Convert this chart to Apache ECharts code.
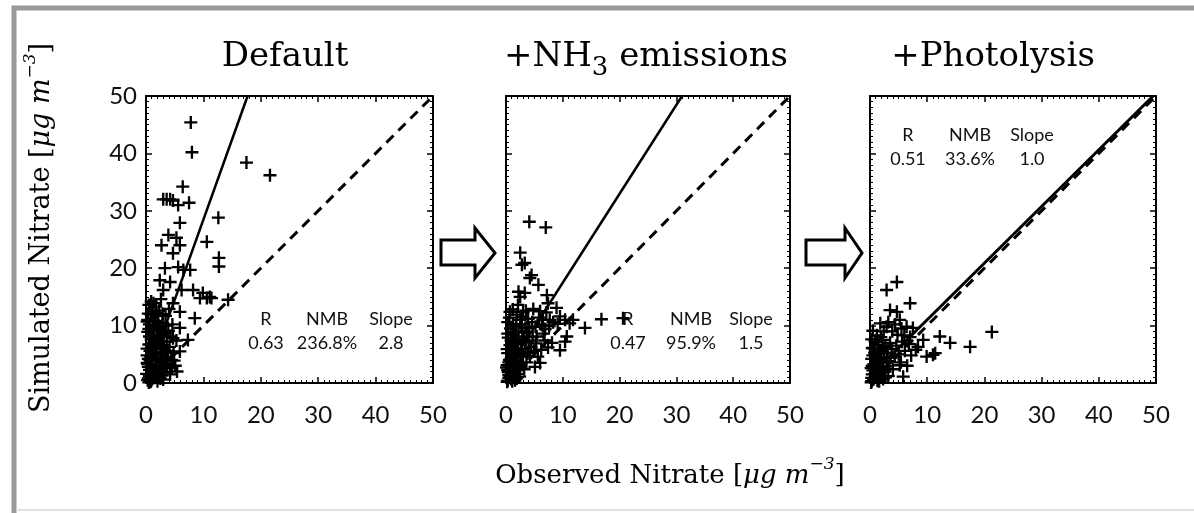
<!DOCTYPE html>
<html>
<head>
<meta charset="utf-8">
<title>Nitrate scatter</title>
<script src="https://cdn.jsdelivr.net/npm/echarts@6/dist/echarts.min.js"></script>
<style>
  html, body { margin: 0; padding: 0; background: #fff; }
  #chart { width: 1194px; height: 513px; }
</style>
</head>
<body>
<div id="chart"></div>
<script>
// panel titles and stats
var panelTitles = ['Default', '+NH3 emissions', '+Photolysis'];
var statNames = ['R', 'NMB', 'Slope'];
var statValues = [
    ['0.63', '236.8%', '2.8'],
    ['0.47', '95.9%', '1.5'],
    ['0.51', '33.6%', '1.0']
];
var tickValues = [0, 10, 20, 30, 40, 50];

// regression fits (solid) and 1:1 line (dashed)
var fitDefault = [[0, 0.5], [17.7, 50]];
var fitNH3 = [[0, 2], [31, 50]];
var fitPhoto = [[4, 5.1], [49.5, 50]];
var oneToOne = [[0, 0], [50, 50]];

// observed vs simulated
var defaultPts = [
    [7.8, 45.4], [8.0, 40.2], [17.5, 38.4], [21.6, 36.2], [6.4, 34.2],
    [3.0, 32.0], [3.6, 32.0], [4.2, 32.0], [4.7, 31.8], [5.6, 31.0], [7.5, 31.4],
    [5.9, 27.9], [12.6, 28.8], [3.9, 25.8], [5.3, 25.3], [2.7, 24.0], [5.9, 24.0],
    [10.6, 24.6], [4.7, 22.6], [12.7, 21.8], [12.7, 20.3], [3.3, 20.0], [6.5, 19.7],
    [7.7, 19.7], [5.6, 20.2], [2.4, 17.9], [4.2, 17.6], [3.0, 16.2], [6.2, 16.2],
    [8.2, 16.2], [9.9, 15.7], [11.1, 15.0], [10.6, 14.8], [11.4, 14.8], [14.3, 14.5],
    [9.4, 14.8], [1.3, 13.9], [4.7, 13.9], [5.9, 12.4], [8.5, 11.3], [5.9, 9.6],
    [4.7, 7.8], [7.3, 7.5], [5.9, 5.5],
    [0.3, 0.5], [0.6, 1.2], [0.9, 0.4], [1.2, 2.1], [0.4, 2.8], [1.5, 0.9], [1.8, 3.2],
    [0.7, 3.9], [2.1, 1.5], [2.4, 4.4], [0.2, 4.8], [1.1, 5.3], [2.7, 2.6], [1.6, 6.1],
    [0.5, 6.7], [3.0, 3.7], [2.2, 6.9], [0.9, 7.6], [3.3, 5.5], [1.4, 8.2], [0.3, 8.9],
    [2.6, 8.4], [3.6, 7.2], [1.9, 9.6], [0.6, 10.2], [2.9, 10.5], [1.2, 11.3], [3.9, 9.1],
    [0.4, 12.1], [2.3, 12.6], [1.7, 13.3], [0.8, 0.2], [1.3, 1.7], [2.0, 0.3], [0.1, 1.6],
    [1.0, 3.0], [2.5, 0.8], [3.2, 1.9], [0.2, 3.5], [1.9, 4.9], [2.8, 5.9], [0.7, 5.6],
    [3.5, 4.6], [4.1, 6.3], [1.4, 7.0], [4.3, 8.1], [2.0, 7.8], [0.5, 9.4], [3.1, 8.7],
    [4.6, 10.2], [1.6, 10.8], [3.4, 11.7], [0.9, 14.2], [2.6, 14.6], [4.0, 12.9],
    [1.1, 0.7], [2.3, 2.4], [0.6, 2.3], [3.7, 2.8], [1.7, 4.0], [0.4, 4.2], [2.9, 4.0],
    [4.4, 4.0], [1.2, 6.4], [3.8, 5.6], [2.4, 9.3], [1.0, 9.0], [3.5, 10.0], [0.3, 11.0],
    [2.0, 11.8], [5.1, 3.0], [4.8, 5.2], [5.3, 7.4], [3.0, 0.6], [4.2, 1.5], [5.4, 2.0],
    [4.9, 3.9], [0.5, 0.1], [1.0, 1.4], [1.6, 2.5], [0.3, 3.3], [2.2, 3.0], [0.8, 4.6],
    [1.5, 5.0], [2.5, 5.3], [0.2, 6.0], [1.0, 6.9], [1.8, 7.2], [0.6, 8.1], [2.2, 10.0],
    [1.3, 9.8], [0.2, 10.7], [1.0, 12.5], [3.0, 6.6], [2.6, 7.3], [1.7, 1.0], [0.4, 0.8],
    [2.8, 1.3], [3.4, 3.3], [0.9, 11.9], [1.8, 12.2], [0.5, 13.6], [2.9, 12.0], [3.8, 4.1],
    [4.5, 2.6]
];
var nh3Pts = [
    [4.1, 28.1], [7.0, 27.1], [2.5, 22.7], [2.8, 20.6], [3.3, 20.9], [4.5, 18.8],
    [4.2, 18.3], [5.7, 17.1], [2.2, 15.9], [3.3, 15.7], [2.5, 15.0], [7.2, 15.3],
    [7.4, 13.9], [8.9, 13.1], [3.0, 12.4], [0.7, 12.4], [9.5, 11.6], [10.4, 11.0],
    [11.8, 11.0], [11.2, 10.4], [7.7, 11.0], [6.5, 11.0], [16.8, 11.1], [20.6, 11.3],
    [13.9, 9.6], [10.7, 8.1], [10.4, 7.2], [9.5, 5.7], [6.0, 3.5], [5.1, 2.8],
    [0.3, 0.4], [0.7, 1.1], [1.1, 0.3], [0.4, 1.9], [1.5, 1.4], [0.9, 2.5], [1.9, 0.8],
    [0.2, 3.1], [1.3, 3.4], [2.2, 2.2], [0.6, 4.0], [1.7, 4.5], [2.6, 3.3], [0.3, 5.2],
    [1.0, 5.6], [2.1, 5.9], [3.0, 4.7], [0.7, 6.6], [1.6, 7.1], [2.6, 6.8], [3.4, 6.0],
    [0.4, 7.9], [1.2, 8.4], [2.2, 8.8], [3.1, 8.1], [4.0, 7.4], [0.8, 9.5], [1.8, 9.9],
    [2.7, 10.2], [4.4, 6.3], [3.8, 5.2], [0.5, 0.9], [1.4, 2.0], [2.4, 1.1], [3.2, 2.4],
    [0.1, 2.7], [2.0, 3.9], [3.6, 3.6], [4.2, 4.6], [1.1, 6.3], [2.9, 7.6], [3.7, 8.9],
    [4.7, 8.0], [5.3, 6.9], [4.9, 5.6], [5.6, 4.6], [6.2, 5.8], [7.4, 6.2], [8.1, 7.0],
    [6.8, 7.4], [3.9, 11.2], [4.6, 10.6], [5.2, 9.8], [5.8, 11.4], [6.3, 10.1], [6.9, 9.4],
    [4.1, 9.6], [5.4, 8.1], [6.6, 8.6], [7.6, 9.9], [8.3, 10.6], [9.1, 10.3], [3.4, 9.6],
    [2.8, 11.5], [1.9, 11.9], [1.2, 12.8], [3.5, 12.6], [4.8, 12.9], [6.0, 12.5],
    [7.1, 12.3], [0.6, 11.4], [2.1, 13.6], [0.3, 10.6],
    [0.2, 0.2], [0.9, 0.7], [1.6, 0.5], [0.5, 1.4], [1.2, 1.7], [2.0, 1.6], [0.3, 2.3],
    [1.1, 2.9], [1.8, 3.0], [0.5, 3.6], [2.4, 2.8], [0.9, 4.3], [1.4, 5.0], [2.4, 4.9],
    [0.2, 5.9], [1.3, 6.0], [0.9, 7.4], [2.0, 7.3], [0.3, 8.6], [1.6, 8.9], [2.9, 9.0],
    [1.2, 10.3], [2.5, 11.0], [3.4, 7.1], [2.8, 5.3]
];
var photoPts = [
    [2.9, 16.2], [4.7, 17.6], [7.0, 13.9], [3.5, 12.7], [4.7, 12.4], [5.2, 11.0],
    [2.9, 9.8], [6.4, 9.8], [7.5, 9.6], [21.3, 8.9], [12.2, 8.1], [14.0, 7.0], [17.5, 6.3],
    [11.0, 4.9], [11.4, 5.2], [9.9, 4.6], [8.4, 6.3], [9.3, 7.5], [5.2, 3.1], [5.8, 1.1],
    [0.3, 0.3], [0.8, 0.9], [1.3, 0.4], [0.4, 1.5], [1.8, 1.2], [1.0, 2.0], [2.3, 0.7],
    [0.2, 2.6], [1.5, 2.8], [2.6, 2.0], [0.7, 3.3], [2.0, 3.6], [3.0, 2.9], [0.3, 4.2],
    [1.2, 4.6], [2.5, 4.4], [3.4, 3.8], [0.8, 5.3], [1.9, 5.6], [3.0, 5.2], [0.4, 6.1],
    [1.5, 6.6], [2.7, 6.4], [3.8, 5.9], [0.9, 7.2], [2.2, 7.5], [3.5, 7.0], [4.3, 4.6],
    [4.0, 2.4], [3.2, 1.2], [4.6, 6.5], [5.0, 5.0], [5.6, 7.2], [6.1, 5.6], [6.8, 6.8],
    [7.2, 4.8], [8.0, 5.8], [5.4, 3.6], [6.5, 3.0], [4.8, 8.4], [3.9, 9.0], [1.2, 8.3],
    [2.4, 9.0], [6.0, 8.3], [7.0, 8.0], [0.5, 9.1], [1.8, 10.4], [3.2, 10.6], [4.4, 10.2],
    [5.5, 9.5],
    [0.2, 0.1], [0.6, 0.6], [1.1, 1.1], [1.6, 0.3], [0.3, 0.9], [0.9, 1.6], [2.0, 1.9],
    [2.7, 1.0], [0.5, 2.2], [1.3, 2.4], [0.4, 3.0], [1.0, 3.9], [1.7, 4.2], [2.3, 2.8],
    [0.5, 4.8], [1.4, 5.3], [2.3, 6.0], [0.7, 6.0], [1.2, 7.6], [3.1, 6.0], [0.3, 7.6],
    [1.9, 8.0], [3.6, 4.4], [2.9, 3.7]
];

var chart = echarts.init(document.getElementById('chart'));

var grids = [
    { left: 146, top: 96, width: 287, height: 287 },
    { left: 506, top: 96, width: 284, height: 287 },
    { left: 870, top: 96, width: 286, height: 287 }
];
var panelData = [defaultPts, nh3Pts, photoPts];
var panelFits = [fitDefault, fitNH3, fitPhoto];
var plus = 'path://M4.1,0H5.9V4.1H10V5.9H5.9V10H4.1V5.9H0V4.1H4.1Z';
var labelFont = { fontFamily: 'Lato', fontSize: 24, color: '#111' };

function axis(gi, pos, showLabel) {
    var isX = pos === 'bottom' || pos === 'top';
    return {
        type: 'value', gridIndex: gi, position: pos,
        min: tickValues[0], max: tickValues[tickValues.length - 1], interval: 10,
        axisLine: { show: true, onZero: false, lineStyle: { color: '#000', width: 2 } },
        axisTick: { show: true, inside: true, length: 6, lineStyle: { color: '#000', width: 1.5 } },
        minorTick: { show: true, splitNumber: 10, length: 3, lineStyle: { color: '#000', width: 1 } },
        splitLine: { show: false },
        axisLabel: Object.assign({ show: showLabel, margin: isX ? 20 : 9 }, labelFont)
    };
}

var xAxes = [], yAxes = [], series = [];
grids.forEach(function (g, i) {
    xAxes.push(axis(i, 'bottom', true));
    xAxes.push(axis(i, 'top', false));
    yAxes.push(axis(i, 'left', i === 0));
    yAxes.push(axis(i, 'right', false));
    series.push({
        type: 'scatter', xAxisIndex: i * 2, yAxisIndex: i * 2,
        data: panelData[i], symbol: plus, symbolSize: 13,
        itemStyle: { color: '#000', opacity: 1 }, silent: true
    });
    series.push({
        type: 'line', xAxisIndex: i * 2, yAxisIndex: i * 2,
        data: oneToOne, symbol: 'none', silent: true,
        lineStyle: { color: '#000', width: 3, type: [10, 7] }
    });
    series.push({
        type: 'line', xAxisIndex: i * 2, yAxisIndex: i * 2,
        data: panelFits[i], symbol: 'none', silent: true,
        lineStyle: { color: '#000', width: i === 2 ? 3 : 2.5 }
    });
});

var serif = 'DejaVu Serif';
var graphics = [
    // frame
    { type: 'polyline', shape: { points: [[14, 513], [14, 8], [1194, 8]] },
      style: { stroke: '#9a9a9a', lineWidth: 5, fill: null } },
    { type: 'line', shape: { x1: 16, y1: 510, x2: 1194, y2: 510 },
      style: { stroke: '#e2e2e2', lineWidth: 2 } },
    // arrows
    { type: 'polygon', shape: { points: [[441, 240], [475, 240], [475, 228], [495, 253], [475, 278], [475, 265], [441, 265]] },
      style: { fill: '#fff', stroke: '#000', lineWidth: 3 } },
    { type: 'polygon', shape: { points: [[806, 240], [845, 240], [845, 228], [862, 253], [845, 278], [845, 265], [806, 265]] },
      style: { fill: '#fff', stroke: '#000', lineWidth: 3 } },
    // panel titles
    { type: 'text', x: 285, y: 57, style: { text: panelTitles[0], font: '34px "' + serif + '"', fill: '#000', align: 'center', verticalAlign: 'middle', textAlign: 'center', textVerticalAlign: 'middle' } },
    { type: 'text', x: 646, y: 57, style: {
        text: '{a|+NH}{s|3}{a| emissions}', align: 'center', verticalAlign: 'middle', textAlign: 'center', textVerticalAlign: 'middle',
        rich: {
            a: { fontFamily: serif, fontSize: 34, lineHeight: 48, verticalAlign: 'middle', color: '#000' },
            s: { fontFamily: serif, fontSize: 26, lineHeight: 26, verticalAlign: 'bottom', color: '#000' }
        } } },
    { type: 'text', x: 993, y: 57, style: { text: panelTitles[2], font: '34px "' + serif + '"', fill: '#000', align: 'center', verticalAlign: 'middle', textAlign: 'center', textVerticalAlign: 'middle' } },
    // axis titles
    { type: 'text', x: 670, y: 476, style: {
        text: '{a|Observed Nitrate [}{i|μg m}{u|−3}{a|]}', align: 'center', verticalAlign: 'middle', textAlign: 'center', textVerticalAlign: 'middle',
        rich: {
            a: { fontFamily: serif, fontSize: 26, lineHeight: 40, verticalAlign: 'middle', color: '#111' },
            i: { fontFamily: serif, fontStyle: 'italic', fontSize: 26, lineHeight: 40, verticalAlign: 'middle', color: '#111' },
            u: { fontFamily: serif, fontStyle: 'italic', fontSize: 17, lineHeight: 17, verticalAlign: 'top', color: '#111' }
        } } },
    { type: 'text', x: 42, y: 228, rotation: Math.PI / 2, style: {
        text: '{a|Simulated Nitrate [}{i|μg m}{u|−3}{a|]}', align: 'center', verticalAlign: 'middle', textAlign: 'center', textVerticalAlign: 'middle',
        rich: {
            a: { fontFamily: serif, fontSize: 27, lineHeight: 40, verticalAlign: 'middle', color: '#111' },
            i: { fontFamily: serif, fontStyle: 'italic', fontSize: 27, lineHeight: 40, verticalAlign: 'middle', color: '#111' },
            u: { fontFamily: serif, fontStyle: 'italic', fontSize: 17, lineHeight: 17, verticalAlign: 'top', color: '#111' }
        } } }
];

// stats blocks: column centres and row positions per panel
var statCols = [[266, 327, 391], [628, 691, 751], [908, 970, 1032]];
var statRows = [[319, 343], [319, 343], [135, 159]];
statCols.forEach(function (cols, p) {
    cols.forEach(function (cx, c) {
        graphics.push({ type: 'text', x: cx, y: statRows[p][0], style: { text: statNames[c], font: '18px Lato', fill: '#111', align: 'center', verticalAlign: 'middle', textAlign: 'center', textVerticalAlign: 'middle' } });
        graphics.push({ type: 'text', x: cx, y: statRows[p][1], style: { text: statValues[p][c], font: '18px Lato', fill: '#111', align: 'center', verticalAlign: 'middle', textAlign: 'center', textVerticalAlign: 'middle' } });
    });
});

var option = {
    animation: false,
    backgroundColor: '#fff',
    grid: grids,
    xAxis: xAxes,
    yAxis: yAxes,
    series: series,
    graphic: graphics
};

chart.setOption(option);
window.addEventListener('resize', function () {
    chart.resize();
});
</script>
</body>
</html>
